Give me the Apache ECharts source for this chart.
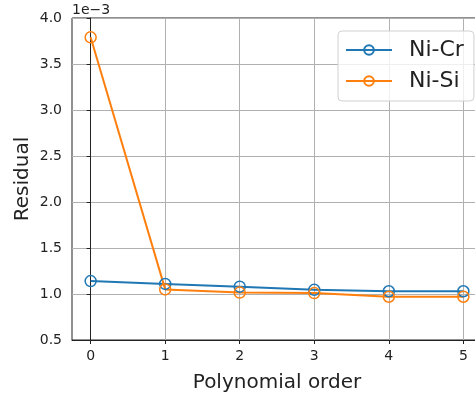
<!DOCTYPE html>
<html>
<head>
<meta charset="utf-8">
<script src="https://cdn.jsdelivr.net/npm/echarts@6/dist/echarts.min.js"></script>
<style>
  html, body { margin: 0; padding: 0; background: #fff; }
  #main { width: 475px; height: 396px; }
</style>
</head>
<body>
<div id="main"></div>
<script>
// residual values, in units of 1e-3
var orders = [0, 1, 2, 3, 4, 5];
var niCr = [1.14, 1.11, 1.08, 1.045, 1.03, 1.03];
var niSi = [3.79, 1.05, 1.015, 1.01, 0.97, 0.97];
var yTicks = [0.5, 1.0, 1.5, 2.0, 2.5, 3.0, 3.5, 4.0];

var font = 'DejaVu Sans';
var chart = echarts.init(document.getElementById('main'));

function pairs(vals) {
  return orders.map(function (x, i) { return [x, vals[i]]; });
}

function lineSeries(name, vals, color) {
  return {
    name: name,
    type: 'line',
    data: pairs(vals),
    symbol: 'circle',
    symbolSize: 11,
    showAllSymbol: true,
    lineStyle: { color: color, width: 2 },
    itemStyle: { color: 'rgba(255,255,255,0)', borderColor: color, borderWidth: 1.5 },
    emphasis: { disabled: true },
    animation: false
  };
}

chart.setOption({
  animation: false,
  grid: {
    left: 72, top: 18, right: -7, bottom: 56,
    outerBoundsMode: 'none',
    containLabel: false,
    show: true, borderColor: '#222', borderWidth: 1
  },
  xAxis: {
    type: 'value',
    min: -0.25, max: 5.25,
    axisLine: { show: true, onZero: false, lineStyle: { color: '#222', width: 1 } },
    axisTick: { show: true, customValues: orders, length: 4, lineStyle: { color: '#222' } },
    axisLabel: { customValues: orders, color: '#222', fontFamily: font, fontSize: 14, margin: 9 },
    splitLine: { show: true, lineStyle: { color: '#b0b0b0', width: 1 } },
    name: 'Polynomial order',
    nameLocation: 'middle',
    nameGap: 33,
    nameTextStyle: { color: '#222', fontFamily: font, fontSize: 20 }
  },
  yAxis: {
    type: 'value',
    min: yTicks[0], max: yTicks[yTicks.length - 1], interval: 0.5,
    axisLine: { show: true, lineStyle: { color: '#222', width: 1 } },
    axisTick: { show: true, length: 4, lineStyle: { color: '#222' } },
    axisLabel: {
      color: '#222', fontFamily: font, fontSize: 14, margin: 10,
      formatter: function (v) { return v.toFixed(1); }
    },
    splitLine: { show: true, lineStyle: { color: '#b0b0b0', width: 1 } },
    name: 'Residual',
    nameLocation: 'middle',
    nameGap: 39,
    nameMoveOverlap: false,
    nameRotate: 90,
    nameTextStyle: { color: '#222', fontFamily: font, fontSize: 20 }
  },
  legend: {
    orient: 'vertical',
    left: 338, top: 31,
    padding: [8, 10, 9, 7],
    itemGap: 9,
    itemWidth: 46, itemHeight: 12,
    backgroundColor: 'rgba(255,255,255,0.8)',
    borderColor: '#d0d0d0', borderWidth: 1, borderRadius: 4,
    textStyle: { color: '#222', fontFamily: font, fontSize: 22, padding: [0, 0, 0, 12] },
    data: ['Ni-Cr', 'Ni-Si']
  },
  graphic: [{
    type: 'text',
    left: 72, top: 3,
    style: { text: '1e\u22123', fill: '#222', font: '14px "DejaVu Sans"' }
  }],
  series: [
    lineSeries('Ni-Cr', niCr, '#1f77b4'),
    lineSeries('Ni-Si', niSi, '#ff7f0e')
  ]
});
</script>
</body>
</html>
